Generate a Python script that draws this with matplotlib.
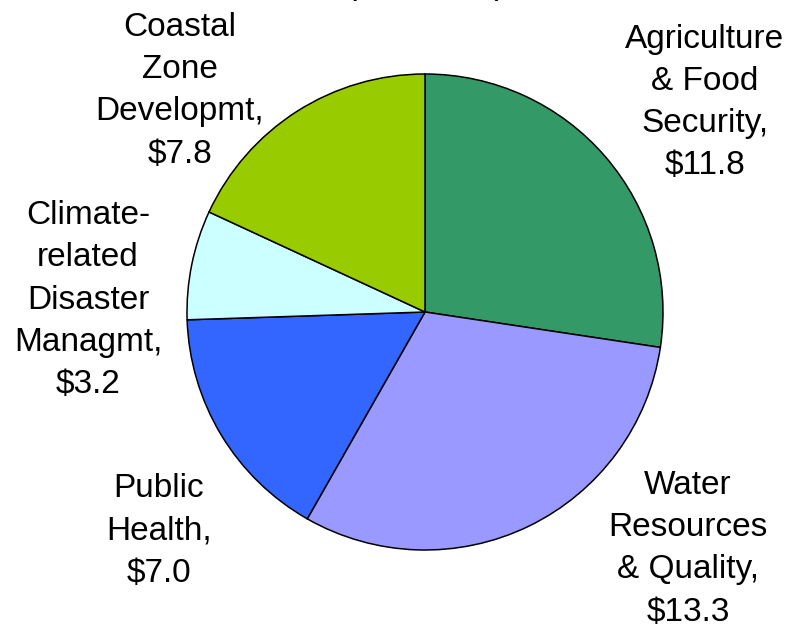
import matplotlib
matplotlib.use('Agg')
import matplotlib.pyplot as plt

plt.rcParams['font.family'] = ['Liberation Sans', 'DejaVu Sans']

# Datos (miles de millones)
sectores = ['Agriculture\n& Food\nSecurity,', 'Water\nResources\n& Quality,',
            'Public\nHealth,', 'Climate-\nrelated\nDisaster\nManagmt,',
            'Coastal\nZone\nDevelopmt,']
valores = [11.8, 13.3, 7.0, 3.2, 7.8]
colores = ['#339966', '#9999FF', '#3366FF', '#CCFFFF', '#99CC00']

# Posiciones de las etiquetas (coordenadas del eje)
pos_etiquetas = [(1.176, 0.88), (1.105, -0.995), (-1.118, -0.92),
                 (-1.416, 0.05), (-1.03, 0.93)]

fig = plt.figure(figsize=(7.88, 6.27), dpi=100)
ax = fig.add_axes([187/788, 77/627, 476/788, 476/627])

ax.pie(valores, colors=colores, startangle=90, counterclock=False,
       wedgeprops=dict(edgecolor='black', linewidth=1.1))
ax.set_xlim(-1, 1)
ax.set_ylim(-1, 1)
ax.set_aspect('equal')

for nombre, v, (x, y) in zip(sectores, valores, pos_etiquetas):
    ax.text(x, y, f'{nombre}\n${v:.1f}', ha='center', va='center',
            fontsize=24, linespacing=1.47, clip_on=False)

# Titulo cortado en la parte superior
fig.text(426/788, 1 + 6/627, '(in billions)', ha='center', va='baseline',
         fontsize=24)

fig.savefig('out.png', dpi=100)
